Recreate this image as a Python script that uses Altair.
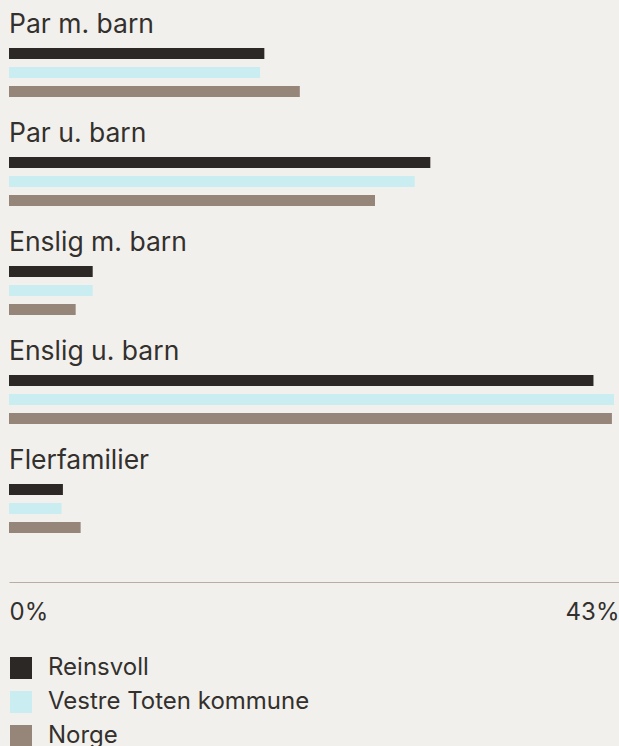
import altair as alt
import pandas as pd

categories = ["Par m. barn", "Par u. barn", "Enslig m. barn", "Enslig u. barn", "Flerfamilier"]
series = ["Reinsvoll", "Vestre Toten kommune", "Norge"]
reinsvoll = [18.0, 29.7, 5.9, 41.2, 3.8]
vestre_toten = [17.7, 28.6, 5.9, 42.65, 3.7]
norge = [20.5, 25.8, 4.7, 42.5, 5.05]
colors = ["#2b2825", "#c9edf1", "#968579"]
x_ticks = [0, 43]

rows = []
for i, c in enumerate(categories):
    for s, vals in zip(series, [reinsvoll, vestre_toten, norge]):
        rows.append({"kategori": c, "serie": s, "andel": vals[i]})
df = pd.DataFrame(rows)
labels_df = pd.DataFrame({"kategori": categories})

FONT = "Inter"
TXT = "#33302d"

y_scale = alt.Scale(domain=categories, paddingInner=0, paddingOuter=0)
x_scale = alt.Scale(domain=[0, 43], nice=False, zero=True)

bars = alt.Chart(df).mark_bar(cornerRadius=0).encode(
    x=alt.X("andel:Q", scale=x_scale, title=None,
            axis=alt.Axis(values=x_ticks, labelExpr="datum.value + '%'", labelFlush=True,
                          ticks=False, grid=False, domainColor="#b8aca3", domainWidth=1,
                          labelFont=FONT, labelFontSize=24, labelColor=TXT, labelPadding=18)),
    y=alt.Y("kategori:N", scale=y_scale, axis=None, sort=categories),
    yOffset=alt.YOffset("serie:N", sort=series,
                        scale=alt.Scale(paddingInner=0.421, paddingOuter=0, range=[11, 60])),
    color=alt.Color("serie:N", sort=series,
                    scale=alt.Scale(domain=series, range=colors),
                    legend=alt.Legend(title=None, orient="none", legendX=0, legendY=619,
                                      direction="vertical", symbolType="square", symbolSize=484,
                                      symbolStrokeWidth=0, labelFont=FONT, labelFontSize=24,
                                      labelColor=TXT, labelOffset=15, rowPadding=10, padding=0,
                                      labelLimit=0)),
)

text = alt.Chart(labels_df).mark_text(
    align="left", baseline="alphabetic", dy=-4, fontSize=26.5, font=FONT, color=TXT
).encode(
    x=alt.datum(0),
    y=alt.Y("kategori:N", scale=y_scale, axis=None, sort=categories, bandPosition=0),
    text="kategori:N",
)

chart = alt.layer(bars, text).properties(
    width=610, height=545, autosize="none",
    padding={"left": 9, "top": 37, "right": 0, "bottom": 164},
    background="#f2f0ed",
).configure_view(stroke=None)

chart.save("out.html", embed_options={"renderer": "svg", "actions": False})
